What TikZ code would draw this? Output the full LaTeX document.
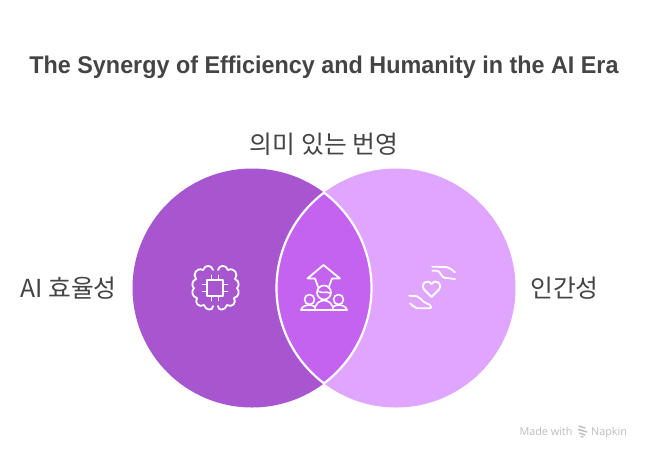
\documentclass[tikz,border=0pt]{standalone}
\usepackage{fontspec}
\setmainfont{Liberation Sans}
\newfontfamily\krfont{Noto Sans CJK KR}
\newfontfamily\brandfont{Open Sans}
\definecolor{leftfill}{HTML}{A855D0}
\definecolor{rightfill}{HTML}{E0A5FF}
\definecolor{lensfill}{HTML}{C463F0}
\definecolor{inktext}{HTML}{444444}
\definecolor{brandgray}{HTML}{BDBDBD}
\tikzset{
  x=1pt,y=-1pt,
  venn/.style={circle,minimum size=239pt,inner sep=0pt,draw=none},
  label/.style={inner sep=0pt,text=inktext,font=\krfont\fontsize{24.8}{28}\selectfont},
  brand/.style={inner sep=0pt,anchor=base,text=brandgray,font=\brandfont\fontsize{10.8}{12}\selectfont},
  icon/.style={draw=white,line width=1.8pt,line cap=round,line join=round,fill=none},
  iconthin/.style={icon,line width=1.6pt}
}
\begin{document}
\begin{tikzpicture}
\useasboundingbox (0,0) rectangle (648,456);
\fill[white] (0,0) rectangle (648,456);
\node[venn,fill=rightfill] (right) at (396,288) {};
\node[venn,fill=leftfill] (left) at (252,288) {};
\begin{scope}
  \clip (252,288) circle[radius=119.5];
  \fill[lensfill] (396,288) circle[radius=119.5];
\end{scope}
\begin{scope}
  \clip (252,288) circle[radius=119.5];
  \draw[white,line width=2.2pt] (396,288) circle[radius=119.5];
\end{scope}
\begin{scope}
  \clip (396,288) circle[radius=119.5];
  \draw[white,line width=2.2pt] (252,288) circle[radius=119.5];
\end{scope}
\node[inner sep=0pt,text=inktext,font=\bfseries\fontsize{24.2}{28}\selectfont] (title) at (324,67) {\scalebox{0.965}[1]{The Synergy of Efficiency and Humanity in the AI Era}};
\node[label] (top) at (324,144) {의미 있는 번영};
\node[label] (ai) at (68.5,288) {AI 효율성};
\node[label] (human) at (564.5,288) {인간성};
% chip + brain
\draw[icon] (207,280) rectangle (223,296);
\foreach \t in {-3.5,3.5}{
  \draw[icon] (215+\t,280) -- (215+\t,275.5);
  \draw[icon] (215+\t,296) -- (215+\t,300.5);
  \draw[icon] (207,288+\t) -- (202.5,288+\t);
  \draw[icon] (223,288+\t) -- (227.5,288+\t);
}
\draw[icon] (213,270)
  .. controls (212,265) and (205,264) .. (203,270)
  .. controls (197,267) and (192,274) .. (196,279)
  .. controls (191,281) and (192,287) .. (194,288)
  .. controls (191,291) and (192,297) .. (197,298)
  .. controls (194,303) and (199,308) .. (204,305)
  .. controls (206,311) and (213,311) .. (213,306);
\draw[icon] (218,270)
  .. controls (219,265) and (226,264) .. (228,270)
  .. controls (234,267) and (239,274) .. (235,279)
  .. controls (240,281) and (239,287) .. (237,288)
  .. controls (240,291) and (239,297) .. (234,298)
  .. controls (237,303) and (232,308) .. (227,305)
  .. controls (225,311) and (218,311) .. (218,306);
% growth people
\draw[icon] (318.5,288) -- (315,278.5) -- (307.5,278.5) -- (323.5,265) -- (340,278.5) -- (332,278.5) -- (328.5,288);
\draw[iconthin] (324,292.5) circle[radius=7];
\draw[iconthin] (318,291) .. controls (322,294) and (326,291) .. (330,293);
\draw[iconthin] (309.5,299.5) circle[radius=5];
\draw[iconthin] (338.5,299.5) circle[radius=5];
\draw[iconthin] (301,310) -- (347,310);
\draw[iconthin] (301,310) .. controls (302,306) and (306,305) .. (310,305) .. controls (312,305) and (314,306) .. (315,307);
\draw[iconthin] (347,310) .. controls (346,306) and (342,305) .. (338,305) .. controls (336,305) and (334,306) .. (333,307);
\draw[iconthin] (315,310) .. controls (315,303) and (320,300.5) .. (324,300.5) .. controls (328,300.5) and (333,303) .. (333,310);
% heart and hands
\draw[icon] (431.5,297) -- (424,289.5) .. controls (420,284) and (427,278) .. (431.5,284) .. controls (436,278) and (443,284) .. (439,289.5) -- cycle;
\draw[icon] (432.3,266.7) -- (446,267) .. controls (450,268) and (453,270) .. (455,272.3);
\draw[icon] (432.3,270.7) -- (437,270.7) .. controls (440,271) and (441,276) .. (444,277.7) -- (455,279);
\draw[icon] (409.3,295.7) -- (417,296.2) .. controls (420,297) and (421,300) .. (424,302) -- (430,305) .. controls (432,307) and (431,308.3) .. (430,308.3) -- (417,308.3) .. controls (414,307) and (412,305) .. (410,303.3);
\node[brand] (made) at (546,435.5) {Made with};
\node[brand] (napkin) at (609,435.5) {Napkin};
\draw[brandgray,line width=1.4pt,line cap=round] (579,426) -- (585,428) (578.5,429.5) -- (587,432) (579.5,433) -- (585,435) (581,436.5) -- (583,437);
\end{tikzpicture}
\end{document}
